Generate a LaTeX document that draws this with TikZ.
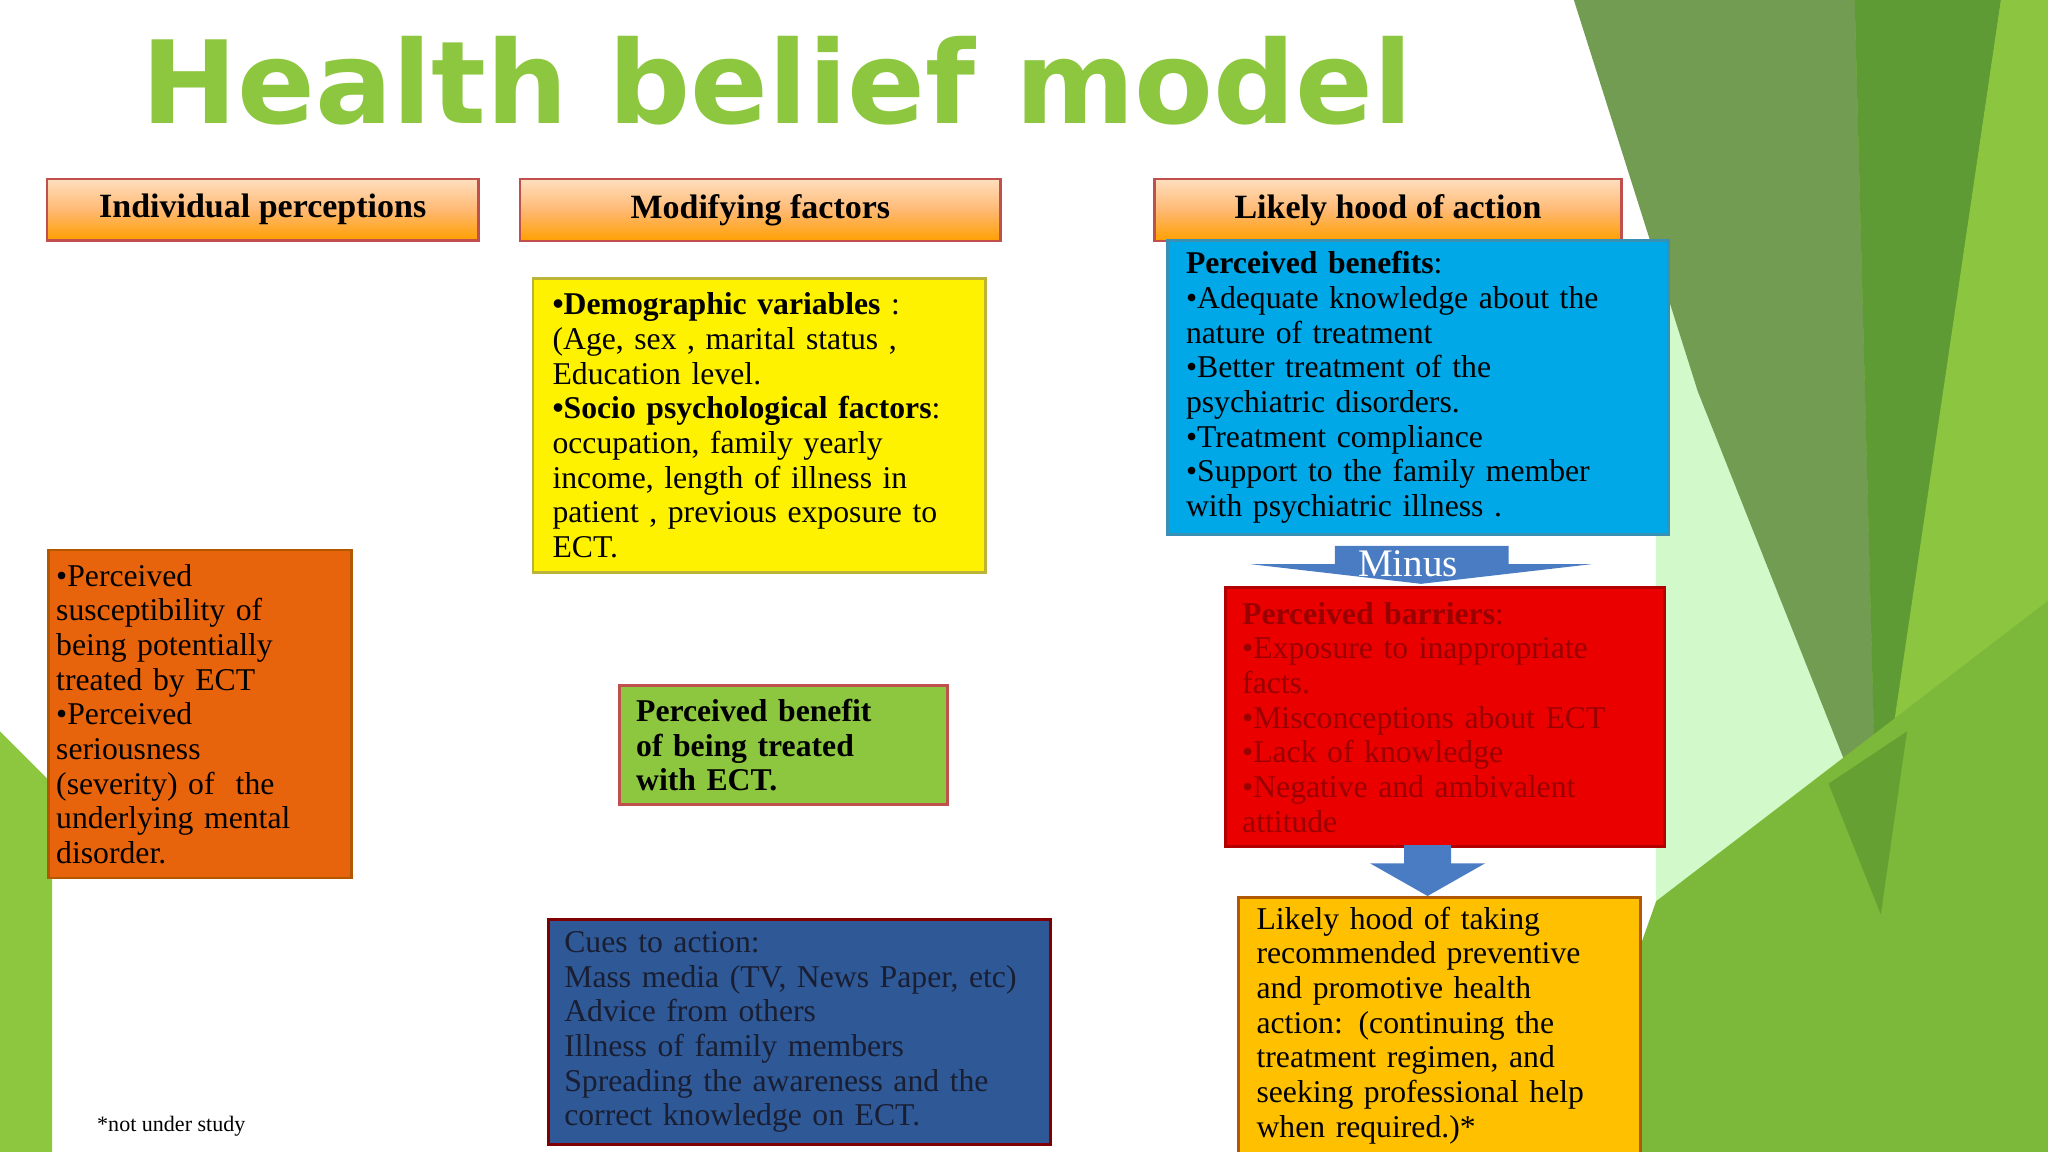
\documentclass[tikz,border=0pt]{standalone}
\usepackage{fontspec}
\setmainfont{Liberation Serif}
\newfontfamily\titlefont{DejaVu Sans}
\usetikzlibrary{arrows.meta}
\definecolor{tgreen}{HTML}{8DC63F}
\definecolor{arrblue}{HTML}{4A7CC4}
\definecolor{hdrborder}{HTML}{C0504D}
\tikzset{
  box/.style={draw=#1!70!black, line width=0.6pt, anchor=north west, inner sep=0pt, align=left, font=\fontsize{6.9}{7.55}\selectfont},
  hdr/.style={draw=hdrborder, line width=0.6pt, anchor=north west, top color=orange!25, bottom color=orange!75!yellow, middle color=orange!55, font=\bfseries\fontsize{7.4}{8}\selectfont},
  blockarr/.style={draw=none, line width=0.16cm, arrblue, -{Triangle[length=0.26cm,width=0.42cm]}},
}
\begin{document}
\begin{tikzpicture}[x=0.01cm,y=-0.01cm]
\useasboundingbox (0,0) rectangle (1568,882);
% right green facets
\fill[tgreen] (1268,0) -- (1568,0) -- (1568,882) -- (1268,882) -- cycle;
\fill[white] (1200,0) -- (1268,0) -- (1268,882) -- (1240,882) -- cycle;
\fill[green!15!white!90!tgreen] (1268,120) -- (1440,650) -- (1380,882) -- (1268,882) -- cycle;
\fill[color={rgb,255:red,115;green,156;blue,83}] (1205,0) -- (1420,0) -- (1437,645) -- (1300,300) -- cycle;
\fill[color={rgb,255:red,95;green,155;blue,53}] (1420,0) -- (1532,0) -- (1437,650) -- cycle;
\fill[color={rgb,255:red,140;green,198;blue,64}] (1532,0) -- (1568,0) -- (1568,882) -- (1430,690) -- cycle;
\fill[color={rgb,255:red,124;green,184;blue,58}] (1268,690) -- (1568,460) -- (1568,882) -- (1200,882) -- cycle;
\fill[color={rgb,255:red,100;green,160;blue,50}] (1400,600) -- (1460,560) -- (1440,700) -- cycle;
\fill[tgreen] (0,560) -- (40,600) -- (40,882) -- (0,882) -- cycle;
% title
\node (title) at (595,62) {\titlefont\bfseries\fontsize{25}{30}\selectfont\color{tgreen}Health belief model};
% headers
\node[hdr, minimum width=3.30cm, minimum height=0.42cm] (h1) at (35,136) {Individual perceptions};
\node[hdr, minimum width=3.68cm, minimum height=0.42cm] (h2) at (397,136) {Modifying factors};
\node[hdr, minimum width=3.57cm, minimum height=0.42cm] (h3) at (883,136) {Likely hood of action};
% boxes
\node[box=yellow, fill=yellow, minimum width=3.46cm, minimum height=2.25cm, text width=3.16cm, inner xsep=0.15cm] (demo) at (407,212)
 {\textbf{•Demographic variables} :\\(Age, sex , marital status ,\\Education level.\\\textbf{•Socio psychological factors}:\\occupation, family yearly\\income, length of illness in\\patient , previous exposure to\\ECT.};
\node[box=cyan, fill={rgb,255:red,0;green,168;blue,232}, minimum width=3.75cm, minimum height=2.25cm, text width=3.55cm, inner xsep=0.14cm] (ben) at (893,183)
 {\textbf{Perceived benefits}:\\•Adequate knowledge about the\\nature of treatment\\•Better treatment of the\\psychiatric disorders.\\•Treatment compliance\\•Support to the family member\\with psychiatric illness .};
\node[box=orange, fill={rgb,255:red,232;green,100;blue,12}, minimum width=2.31cm, minimum height=2.51cm, text width=2.2cm, inner xsep=0.06cm] (susc) at (36,420)
 {•Perceived\\susceptibility of\\being potentially\\treated by ECT\\•Perceived\\seriousness\\(severity) of~ the\\underlying mental\\disorder.};
\node[box=green, fill=tgreen, draw=hdrborder, minimum width=2.38cm, minimum height=0.91cm, text width=2.25cm, inner xsep=0.13cm, font=\bfseries\fontsize{6.9}{7.55}\selectfont] (pbt) at (473,524)
 {Perceived benefit\\of being treated\\with ECT.};
\node[box=red, fill=red!92!black, text=red!60!black, minimum width=3.25cm, minimum height=1.98cm, text width=3.1cm, inner xsep=0.13cm] (bar) at (937,449)
 {\textbf{Perceived barriers}:\\•Exposure to inappropriate\\facts.\\•Misconceptions about ECT\\•Lack of knowledge\\•Negative and ambivalent\\attitude};
\node[box=orange, fill={rgb,255:red,255;green,192;blue,0}, minimum width=2.93cm, minimum height=1.96cm, text width=2.8cm, inner xsep=0.14cm] (like) at (947,686)
 {Likely hood of taking\\recommended preventive\\and promotive health\\action: (continuing the\\treatment regimen, and\\seeking professional help\\when required.)*};
\node[box=blue, fill={rgb,255:red,46;green,88;blue,150}, draw=red!50!black, text={rgb,255:red,25;green,30;blue,50}, minimum width=3.78cm, minimum height=1.72cm, text width=3.6cm, inner xsep=0.12cm] (cues) at (419,703)
 {Cues to action:\\Mass media (TV, News Paper, etc)\\Advice from others\\Illness of family members\\Spreading the awareness and the\\correct knowledge on ECT.};
\node[anchor=west, font=\fontsize{4.8}{5}\selectfont] (note) at (62,862) {*not under study};
% arrow coordinates
\coordinate (a1s) at (407,300); \coordinate (a1e) at (200,300);
\coordinate (a2s) at (175,305); \coordinate (a2e) at (175,412);
\coordinate (a3s) at (763,316); \coordinate (a3e) at (893,316);
\coordinate (a4s) at (597,438); \coordinate (a4e) at (597,516);
\coordinate (a5s) at (277,567); \coordinate (a5e) at (473,567);
\coordinate (a6s) at (720,551); \coordinate (a6e) at (937,551);
\coordinate (a7s) at (597,703); \coordinate (a7e) at (597,617);
\coordinate (a8s) at (712,622); \coordinate (a8e) at (942,810);
\draw[blockarr] (a1s) -- (a1e);
\draw[blockarr] (a2s) -- (a2e);
\draw[blockarr] (a3s) -- (a3e);
\draw[blockarr] (a4s) -- (a4e);
\draw[blockarr] (a5s) -- (a5e);
\draw[blockarr, line width=0.1cm, -{Triangle[length=0.2cm,width=0.3cm]}] (a6s) -- (a6e);
\draw[blockarr] (a7s) -- (a7e);
\draw[blockarr] (a8s) -- (a8e);
% minus arrow
\fill[arrblue] (958,432) -- (1022,432) -- (1022,418) -- (1155,418) -- (1155,432) -- (1218,432) -- (1088,447) -- cycle;
\node[text=white, font=\fontsize{8.5}{9}\selectfont] (minus) at (1078,432) {Minus};
% down arrow barriers -> likely
\fill[arrblue] (1075,647) -- (1111,647) -- (1111,661) -- (1137,661) -- (1093,686) -- (1049,661) -- (1075,661) -- cycle;
\end{tikzpicture}
\end{document}
